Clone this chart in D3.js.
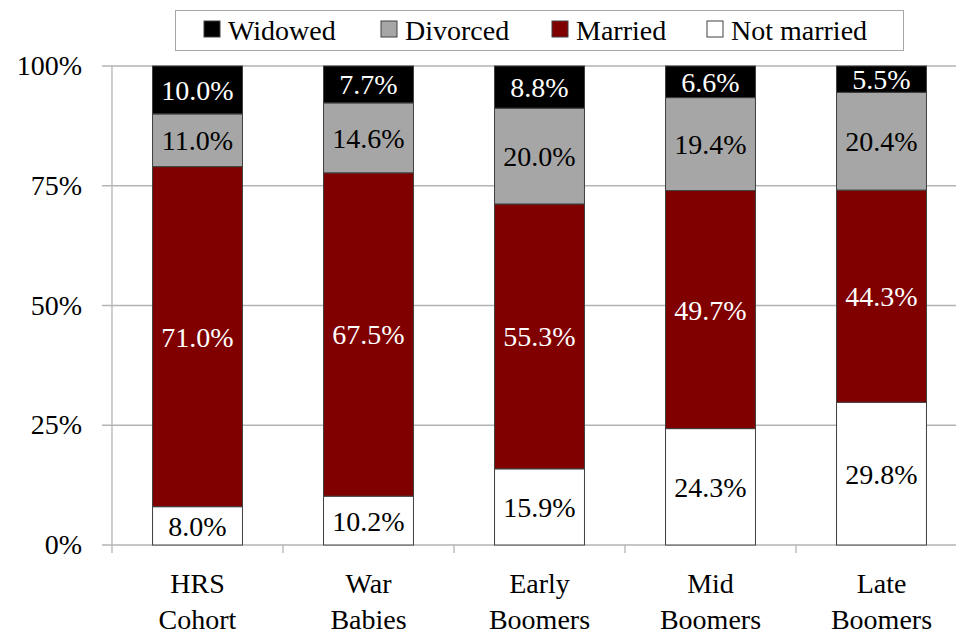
<!DOCTYPE html>
<html>
<head>
<meta charset="utf-8">
<script src="https://cdn.jsdelivr.net/npm/d3@7"></script>
<style>
  body { margin: 0; background: #fff; }
</style>
</head>
<body>
<div id="chart"></div>
<script>
// Datos del gráfico
const cohorts = [["HRS", "Cohort"], ["War", "Babies"], ["Early", "Boomers"], ["Mid", "Boomers"], ["Late", "Boomers"]];
const notMarried = [8.0, 10.2, 15.9, 24.3, 29.8];
const married = [71.0, 67.5, 55.3, 49.7, 44.3];
const divorced = [11.0, 14.6, 20.0, 19.4, 20.4];
const widowed = [10.0, 7.7, 8.8, 6.6, 5.5];
const yTicks = [0, 25, 50, 75, 100];

const seriesNames = ["Not married", "Married", "Divorced", "Widowed"];
const seriesColors = { "Not married": "#ffffff", "Married": "#800000", "Divorced": "#a6a6a6", "Widowed": "#000000" };
const labelColors = { "Not married": "#000", "Married": "#fff", "Divorced": "#000", "Widowed": "#fff" };
const legendOrder = ["Widowed", "Divorced", "Married", "Not married"];

const width = 956, height = 635;

const svg = d3.select("#chart").append("svg")
    .attr("width", width)
    .attr("height", height);

// Buscar una fuente serif disponible midiendo el ancho del texto
function pickFont(candidates) {
    const probe = svg.append("text").style("font-size", "40px").text("Widowed 0123456789%");
    const base = {};
    ["monospace", "sans-serif"].forEach(g => {
        probe.style("font-family", g);
        base[g] = probe.node().getComputedTextLength();
    });
    let found = null;
    for (const c of candidates) {
        let ok = true;
        ["monospace", "sans-serif"].forEach(g => {
            probe.style("font-family", `'${c}', ${g}`);
            if (Math.abs(probe.node().getComputedTextLength() - base[g]) < 0.5) ok = false;
        });
        if (ok) { found = c; break; }
    }
    probe.remove();
    return found ? `'${found}', serif` : "serif";
}
const FONT = pickFont(["Liberation Serif", "Times New Roman", "Tinos", "Nimbus Roman", "Nimbus Roman No9 L",
    "FreeSerif", "DejaVu Serif", "Noto Serif", "Times", "Georgia"]);
svg.style("font-family", FONT);

// Tabla para d3.stack
const table = cohorts.map((c, i) => ({
    key: c.join(" "),
    "Not married": notMarried[i],
    "Married": married[i],
    "Divorced": divorced[i],
    "Widowed": widowed[i]
}));

const x = d3.scaleBand()
    .domain(table.map(d => d.key))
    .range([112, 967])
    .paddingInner(0.474)
    .paddingOuter(0.237);

const y = d3.scaleLinear()
    .domain([0, 100])
    .range([545, 66]);

// Líneas de cuadrícula
svg.append("g")
    .selectAll("line")
    .data(yTicks)
    .enter().append("line")
    .attr("x1", 102).attr("x2", width)
    .attr("y1", d => y(d)).attr("y2", d => y(d))
    .attr("stroke", "#b3b3b3")
    .attr("stroke-width", 1.3);

// Eje vertical
svg.append("line")
    .attr("x1", 112).attr("x2", 112)
    .attr("y1", y(100)).attr("y2", y(0) + 8)
    .attr("stroke", "#b3b3b3")
    .attr("stroke-width", 1.3);

// Marcas entre categorías
const step = x.step();
svg.append("g")
    .selectAll("line")
    .data(table.slice(1))
    .enter().append("line")
    .attr("x1", d => x(d.key) - step * x.paddingInner() / 2)
    .attr("x2", d => x(d.key) - step * x.paddingInner() / 2)
    .attr("y1", y(0)).attr("y2", y(0) + 8)
    .attr("stroke", "#b3b3b3")
    .attr("stroke-width", 1.3);

// Etiquetas del eje Y
svg.append("g")
    .selectAll("text")
    .data(yTicks)
    .enter().append("text")
    .attr("x", 82)
    .attr("y", d => y(d) + 9)
    .attr("text-anchor", "end")
    .style("font-family", FONT)
    .style("font-size", "28px")
    .text(d => d + "%");

// Barras apiladas
const stacked = d3.stack().keys(seriesNames)(table);

const layers = svg.append("g")
    .selectAll("g")
    .data(stacked)
    .enter().append("g");

layers.selectAll("rect")
    .data(s => s.map(d => Object.assign({ series: s.key }, d)))
    .enter().append("rect")
    .attr("x", d => x(d.data.key))
    .attr("y", d => y(d[1]))
    .attr("width", x.bandwidth())
    .attr("height", d => y(d[0]) - y(d[1]))
    .attr("fill", d => seriesColors[d.series])
    .attr("stroke", "#404040")
    .attr("stroke-width", 1);

layers.selectAll("text")
    .data(s => s.map(d => Object.assign({ series: s.key }, d)))
    .enter().append("text")
    .attr("x", d => x(d.data.key) + x.bandwidth() / 2)
    .attr("y", d => (y(d[0]) + y(d[1])) / 2 + 10)
    .attr("text-anchor", "middle")
    .attr("fill", d => labelColors[d.series])
    .style("font-family", FONT)
    .style("font-size", "28px")
    .text(d => (d[1] - d[0]).toFixed(1) + "%");

// Etiquetas del eje X
const xl = svg.append("g")
    .selectAll("text")
    .data(cohorts)
    .enter().append("text")
    .attr("x", (d, i) => x(table[i].key) + x.bandwidth() / 2)
    .attr("text-anchor", "middle")
    .style("font-family", FONT)
    .style("font-size", "28px");

xl.append("tspan")
    .attr("x", (d, i) => x(table[i].key) + x.bandwidth() / 2)
    .attr("y", 593)
    .text(d => d[0]);
xl.append("tspan")
    .attr("x", (d, i) => x(table[i].key) + x.bandwidth() / 2)
    .attr("y", 629)
    .text(d => d[1]);

// Leyenda
const legend = svg.append("g");
legend.append("rect")
    .attr("x", 175.5).attr("y", 10.5)
    .attr("width", 728).attr("height", 40)
    .attr("fill", "#fff")
    .attr("stroke", "#a6a6a6")
    .attr("stroke-width", 1);

const legendX = [204, 381, 552, 707];
legendOrder.forEach((name, i) => {
    legend.append("rect")
        .attr("x", legendX[i]).attr("y", 21)
        .attr("width", 16).attr("height", 16)
        .attr("fill", seriesColors[name])
        .attr("stroke", "#404040")
        .attr("stroke-width", 1);
    legend.append("text")
        .attr("x", legendX[i] + 24)
        .attr("y", 40)
        .style("font-family", FONT)
        .style("font-size", "28px")
        .text(name);
});
</script>
</body>
</html>
